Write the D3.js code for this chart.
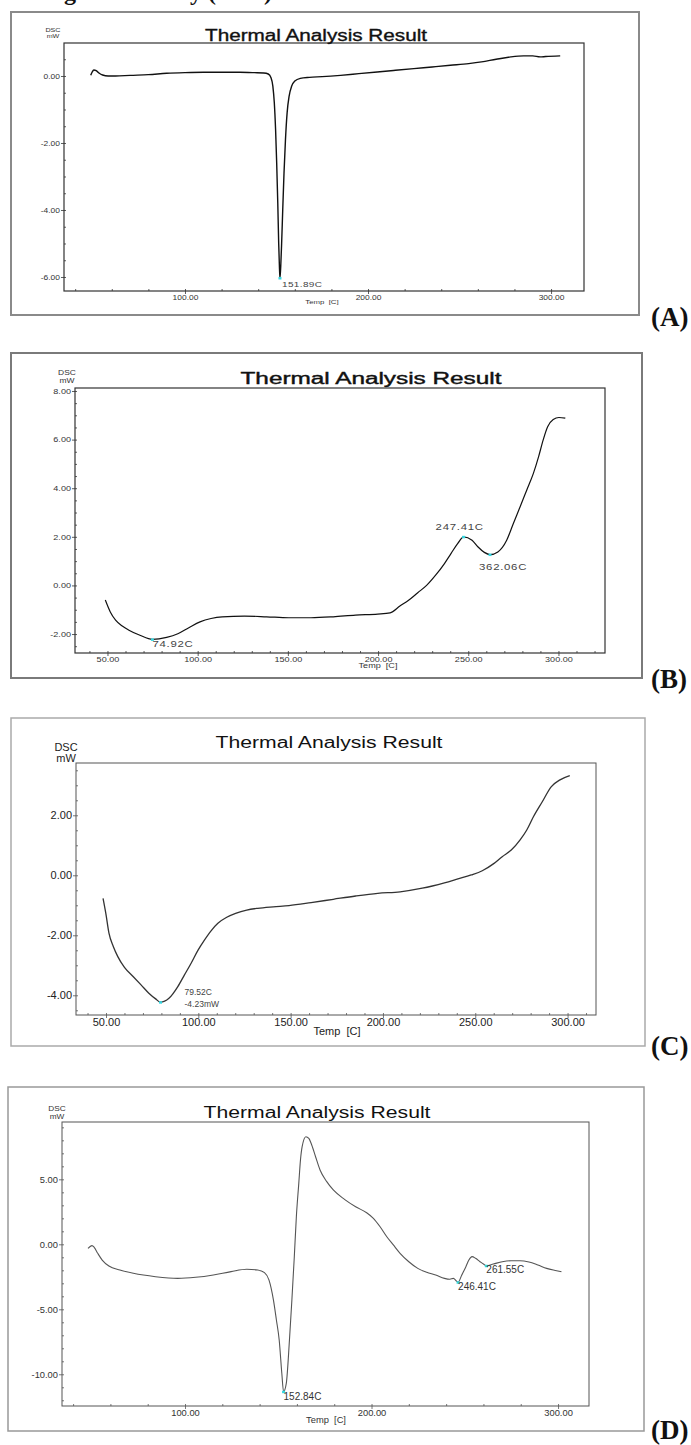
<!DOCTYPE html>
<html>
<head>
<meta charset="utf-8">
<script src="https://cdnjs.cloudflare.com/ajax/libs/d3/7.8.5/d3.min.js"></script>
<style>
  html, body { margin: 0; padding: 0; background: #fff; }
  svg { display: block; }
</style>
</head>
<body>
<svg id="fig" width="691" height="1445"></svg>
<script>
// ---------- DSC traces: temperature (°C) and heat flow (mW) ----------
const tempA = [48.5,49.3,50.2,51.5,53,55,58,62,70,80,90,100,110,120,130,138,143,145.5,147,148,148.8,149.5,150.1,150.7,151.2,151.6,151.89,152.3,152.8,153.4,154.1,154.9,155.8,156.9,158.3,160,163,168,175,185,195,205,215,225,235,245,255,262,270,278,285,290,294,297,305];
const dscA  = [0.02,0.12,0.18,0.16,0.09,0.03,0.0,0.0,0.02,0.04,0.08,0.1,0.11,0.11,0.11,0.1,0.09,0.06,-0.05,-0.3,-0.8,-1.6,-2.6,-3.8,-5.0,-5.7,-6.03,-5.7,-5.0,-4.0,-2.9,-1.9,-1.1,-0.6,-0.3,-0.15,-0.07,-0.04,-0.02,0.02,0.07,0.12,0.17,0.22,0.27,0.32,0.37,0.42,0.5,0.57,0.6,0.6,0.57,0.58,0.6];

const tempB = [48.8,51.5,54.5,58.2,61.9,68,74.92,82.8,89,95.1,101.3,107.4,113.6,125.9,138.2,150.5,162.8,175.2,187.5,199.8,206.7,212.1,217.1,222,226.9,231.9,236.8,240.5,244.2,247.41,252.1,255.3,258.9,262.06,266.4,271.3,275,278.7,282.4,286.1,289,291.5,294,297.1,300.3,303.8];
const dscB  = [-0.6,-1.08,-1.43,-1.67,-1.84,-2.05,-2.22,-2.14,-1.99,-1.74,-1.5,-1.36,-1.29,-1.26,-1.29,-1.33,-1.33,-1.29,-1.22,-1.18,-1.13,-0.85,-0.6,-0.3,0.0,0.42,0.9,1.32,1.73,2.0,1.86,1.59,1.36,1.27,1.38,1.86,2.55,3.23,3.92,4.61,5.3,5.98,6.53,6.83,6.91,6.88];

const tempC = [48.4,49.9,51.6,54,56.4,60,64.8,69.1,73.2,76.9,79.52,84.1,88.9,92.5,96.1,99.7,103.3,106.9,110.6,115.4,120.2,126.2,132.2,140.6,149.1,161.1,173.1,185.2,197.2,209.3,221.3,233.3,240.6,247.8,253.8,259.8,264.6,269.5,274.3,277.9,281.5,286.3,291.1,295.9,301.2];
const dscC  = [-0.77,-1.27,-1.93,-2.38,-2.71,-3.07,-3.38,-3.66,-3.93,-4.12,-4.23,-4.1,-3.71,-3.32,-2.93,-2.51,-2.16,-1.85,-1.6,-1.4,-1.27,-1.16,-1.1,-1.05,-1.01,-0.91,-0.8,-0.69,-0.6,-0.55,-0.43,-0.25,-0.12,0.01,0.15,0.38,0.62,0.84,1.18,1.51,1.95,2.45,2.95,3.18,3.32];

const tempD = [48,50.1,51.3,53.2,55.6,59.2,65.1,72.3,84.2,96.1,105.7,115.2,124.7,133.1,139,142.6,145,147.4,149,150.5,151.9,152.84,154.3,156,157.3,158.6,159.7,161,161.9,162.8,164.8,166.4,167.6,170,172.4,176,179.5,185.5,191.5,197.4,201,204.6,208.2,211.7,215.3,220,224.8,229.6,234.4,239.1,242,243.9,245.5,246.41,248.4,250.6,252.2,253.9,255.8,258.2,260.2,261.55,265.3,270.1,274.9,279.6,284.4,289.2,293.9,297.5,299.9,301.8];
const dscD  = [-0.31,-0.1,-0.23,-0.69,-1.21,-1.67,-1.98,-2.23,-2.49,-2.62,-2.54,-2.36,-2.1,-1.92,-1.98,-2.18,-2.74,-4.28,-5.82,-7.36,-9.92,-11.34,-10.7,-7.36,-4.28,-0.95,2.12,4.69,6.48,7.51,8.28,8.15,7.77,6.74,5.72,4.82,4.18,3.46,2.89,2.43,2.0,1.35,0.58,-0.05,-0.69,-1.34,-1.85,-2.15,-2.36,-2.62,-2.69,-2.62,-2.82,-2.92,-2.36,-1.72,-1.21,-0.95,-1.08,-1.34,-1.54,-1.65,-1.52,-1.34,-1.26,-1.26,-1.36,-1.59,-1.85,-1.98,-2.05,-2.1];

// ---------- axis tick values ----------
const yTicksA = [0, -2, -4, -6];
const xTicksA = [100, 200, 300];
const yTicksB = [8, 6, 4, 2, 0, -2];
const xTicksB = [50, 100, 150, 200, 250, 300];
const yTicksC = [2, 0, -2, -4];
const xTicksC = [50, 100, 150, 200, 250, 300];
const yTicksD = [5, 0, -5, -10];
const xTicksD = [100, 200, 300];

// ---------- peak annotations (temperature, heat flow, text lines) ----------
const peaksA = [{ t: 151.89, v: -6.03, lines: ["151.89C"] }];
const peaksB = [
  { t: 74.92,  v: -2.22, lines: ["74.92C"] },
  { t: 247.41, v: 2.0,   lines: ["247.41C"] },
  { t: 262.06, v: 1.27,  lines: ["362.06C"] }
];
const peaksC = [{ t: 79.52, v: -4.23, lines: ["79.52C", "-4.23mW"] }];
const peaksD = [
  { t: 152.84, v: -11.34, lines: ["152.84C"] },
  { t: 246.41, v: -2.92,  lines: ["246.41C"] },
  { t: 261.55, v: -1.65,  lines: ["261.55C"] }
];

const chartTitle = "Thermal Analysis Result";
const yLabel = ["DSC", "mW"];
const xLabel = "Temp  [C]";
const panelNames = ["(A)", "(B)", "(C)", "(D)"];
const caption = "Figure 4: Differential scanning calorimetry (DSC)";

// ---------- drawing ----------
const svg = d3.select("#fig");
const SANS = "'Liberation Sans', Arial, sans-serif";
const SERIF = "'Liberation Serif', 'DejaVu Serif', serif";
const fmt = d => d.toFixed(2);

svg.append("rect").attr("width", 691).attr("height", 1445).attr("fill", "#fff");

// caption line of the page, mostly above the visible area
svg.append("text")
  .attr("x", 272).attr("y", 0)
  .attr("text-anchor", "end")
  .attr("font-family", SERIF).attr("font-weight", "bold").attr("font-size", 24)
  .attr("fill", "#111")
  .text(caption);

function stretchedText(g, x, y, str, o) {
  return g.append("text")
    .attr("transform", `translate(${x},${y}) scale(${o.sx || 1},1)`)
    .attr("text-anchor", o.anchor || "start")
    .attr("font-family", SANS)
    .attr("font-size", o.size)
    .attr("fill", o.fill || "#222")
    .text(str);
}

function drawPanel(c) {
  const g = svg.append("g");
  const [bx0, by0, bx1, by1] = c.box;
  const [px0, py0, px1, py1] = c.plot;

  // outer picture border
  g.append("rect")
    .attr("x", bx0).attr("y", by0).attr("width", bx1 - bx0).attr("height", by1 - by0)
    .attr("fill", "#fff").attr("stroke", c.boxStroke).attr("stroke-width", c.boxWidth);

  const x = d3.scaleLinear().domain(c.xDom).range([px0, px1]);
  const y = d3.scaleLinear().domain(c.yDom).range([py1, py0]);

  // plot frame
  g.append("rect")
    .attr("x", px0).attr("y", py0).attr("width", px1 - px0).attr("height", py1 - py0)
    .attr("fill", "none").attr("stroke", c.frame).attr("stroke-width", c.frameWidth);

  // minor ticks (inward)
  const yMin = d3.range(Math.ceil(c.yDom[0] / c.yMinor) * c.yMinor, c.yDom[1], c.yMinor);
  const xMin = d3.range(Math.ceil(c.xDom[0] / c.xMinor) * c.xMinor, c.xDom[1], c.xMinor);
  const ym = g.append("g").attr("transform", `translate(${px0},0)`)
    .call(d3.axisLeft(y).tickValues(yMin).tickSize(-2).tickFormat(""));
  const xm = g.append("g").attr("transform", `translate(0,${py1})`)
    .call(d3.axisBottom(x).tickValues(xMin).tickSize(-2).tickFormat(""));
  [ym, xm].forEach(a => {
    a.select(".domain").remove();
    a.selectAll("line").attr("stroke", c.frame).attr("stroke-width", 0.8);
  });

  // major y axis
  const ya = g.append("g").attr("transform", `translate(${px0},0)`)
    .call(d3.axisLeft(y).tickValues(c.yTicks).tickSize(c.tickOut).tickPadding(1).tickFormat(fmt));
  // major x axis
  const xa = g.append("g").attr("transform", `translate(0,${py1})`)
    .call(d3.axisBottom(x).tickValues(c.xTicks).tickSize(c.tickOut).tickPadding(c.xPad).tickFormat(fmt));
  [ya, xa].forEach(a => {
    a.select(".domain").remove();
    a.selectAll("line").attr("stroke", c.frame).attr("stroke-width", 0.8);
    a.selectAll("text")
      .attr("font-family", SANS)
      .attr("font-size", c.tickFont)
      .attr("fill", c.tickFill)
      .attr("transform", `scale(${c.sx},1)`);
  });
  ya.selectAll("text").attr("x", -(c.tickOut + 1) / c.sx);

  // trace
  const pts = c.temp.map((t, i) => [t, c.dsc[i]]);
  g.append("path")
    .datum(pts)
    .attr("d", d3.line().x(d => x(d[0])).y(d => y(d[1])).curve(d3.curveMonotoneX))
    .attr("fill", "none")
    .attr("stroke", c.lineColor)
    .attr("stroke-width", c.lineWidth)
    .attr("stroke-linejoin", "round");

  // peak markers and labels
  c.peaks.forEach((p, i) => {
    const px = x(p.t), py = y(p.v);
    g.append("rect").attr("x", px - 1.5).attr("y", py - 1).attr("width", 3).attr("height", 2.5)
      .attr("fill", "#36d6e0");
    const [dx, dy] = c.peakOffsets[i];
    p.lines.forEach((ln, j) => {
      stretchedText(g, px + dx, py + dy + j * c.peakLead, ln,
        { size: c.peakFont, sx: c.peakSx, fill: c.peakFill })
        .attr("letter-spacing", c.peakSpacing);
    });
  });

  // title
  g.append("text")
    .attr("x", c.titlePos[0]).attr("y", c.titlePos[1])
    .attr("text-anchor", "middle")
    .attr("font-family", SANS).attr("font-size", c.titleSize)
    .attr("fill", "#111")
    .attr("stroke", "#111").attr("stroke-width", c.titleStroke)
    .attr("textLength", c.titleWidth).attr("lengthAdjust", "spacingAndGlyphs")
    .text(chartTitle);

  // axis names
  yLabel.forEach((s, j) => {
    stretchedText(g, c.yLabelPos[0], c.yLabelPos[1] + j * c.yLabelLead, s,
      { size: c.yLabelFont, sx: c.sx, anchor: "middle", fill: c.tickFill });
  });
  stretchedText(g, c.xLabelPos[0], c.xLabelPos[1], xLabel,
    { size: c.xLabelFont, sx: c.sx, anchor: "middle", fill: c.tickFill })
    .style("white-space", "pre");

  // panel letter
  g.append("text")
    .attr("x", c.letterPos[0]).attr("y", c.letterPos[1])
    .attr("font-family", SERIF).attr("font-weight", "bold").attr("font-size", 27)
    .attr("fill", "#111")
    .text(c.letter);
}

drawPanel({
  letter: panelNames[0], letterPos: [651, 326],
  box: [11, 12, 639, 315], boxStroke: "#8a8a8a", boxWidth: 2,
  plot: [64, 43, 584, 291], frame: "#333", frameWidth: 1.2,
  xDom: [33.9, 318], yDom: [-6.418, 0.985],
  xTicks: xTicksA, yTicks: yTicksA, xMinor: 20, yMinor: 0.5,
  tickOut: 3, xPad: 1, tickFont: 6.5, tickFill: "#333", sx: 1.3,
  temp: tempA, dsc: dscA, lineColor: "#111", lineWidth: 1.4,
  peaks: peaksA, peakOffsets: [[2, 9]], peakLead: 10,
  peakFont: 8, peakSx: 1.25, peakFill: "#444", peakSpacing: 0.3,
  titlePos: [316, 41], titleSize: 16, titleWidth: 222, titleStroke: 0.35,
  yLabelPos: [53, 32], yLabelLead: 6, yLabelFont: 5.5,
  xLabelPos: [322, 304], xLabelFont: 6
});

drawPanel({
  letter: panelNames[1], letterPos: [651, 688],
  box: [11, 353, 642, 678], boxStroke: "#7a7a7a", boxWidth: 2,
  plot: [75, 388, 605, 653], frame: "#333", frameWidth: 1.2,
  xDom: [32.0, 325.8], yDom: [-2.78, 8.123],
  xTicks: xTicksB, yTicks: yTicksB, xMinor: 10, yMinor: 0.5,
  tickOut: 3, xPad: 1, tickFont: 7, tickFill: "#333", sx: 1.3,
  temp: tempB, dsc: dscB, lineColor: "#111", lineWidth: 1.2,
  peaks: peaksB, peakOffsets: [[0, 8], [-28, -7], [-11, 15]], peakLead: 10,
  peakFont: 9.5, peakSx: 1.2, peakFill: "#444", peakSpacing: 0.6,
  titlePos: [371, 384], titleSize: 16, titleWidth: 261, titleStroke: 0.4,
  yLabelPos: [67, 375], yLabelLead: 8, yLabelFont: 6.5,
  xLabelPos: [378, 668], xLabelFont: 7
});

drawPanel({
  letter: panelNames[2], letterPos: [651, 1055],
  box: [11, 718, 645, 1046], boxStroke: "#aaa", boxWidth: 1.5,
  plot: [76, 763, 596, 1015], frame: "#555", frameWidth: 1,
  xDom: [33.75, 315.4], yDom: [-4.657, 3.743],
  xTicks: xTicksC, yTicks: yTicksC, xMinor: 10, yMinor: 0.5,
  tickOut: 3, xPad: 1, tickFont: 10, tickFill: "#222", sx: 1.1,
  temp: tempC, dsc: dscC, lineColor: "#333", lineWidth: 1.3,
  peaks: peaksC, peakOffsets: [[24, -7]], peakLead: 12,
  peakFont: 8.5, peakSx: 1.0, peakFill: "#444", peakSpacing: 0,
  titlePos: [329, 748], titleSize: 16, titleWidth: 227, titleStroke: 0,
  yLabelPos: [66, 751], yLabelLead: 11, yLabelFont: 10,
  xLabelPos: [337, 1035], xLabelFont: 10
});

drawPanel({
  letter: panelNames[3], letterPos: [651, 1439],
  box: [8, 1087, 644, 1431], boxStroke: "#999", boxWidth: 1.5,
  plot: [62, 1122, 589, 1406], frame: "#555", frameWidth: 1,
  xDom: [34.05, 316.6], yDom: [-12.44, 9.41],
  xTicks: xTicksD, yTicks: yTicksD, xMinor: 20, yMinor: 1,
  tickOut: 3, xPad: 1, tickFont: 8.5, tickFill: "#333", sx: 1.1,
  temp: tempD, dsc: dscD, lineColor: "#555", lineWidth: 1.1,
  peaks: peaksD, peakOffsets: [[0, 8], [0, 8], [0, 7]], peakLead: 0,
  peakFont: 10, peakSx: 1.0, peakFill: "#333", peakSpacing: 0,
  titlePos: [317, 1118], titleSize: 16, titleWidth: 227, titleStroke: 0,
  yLabelPos: [57, 1111], yLabelLead: 8, yLabelFont: 7.5,
  xLabelPos: [326, 1423], xLabelFont: 8.5
});
</script>
</body>
</html>
